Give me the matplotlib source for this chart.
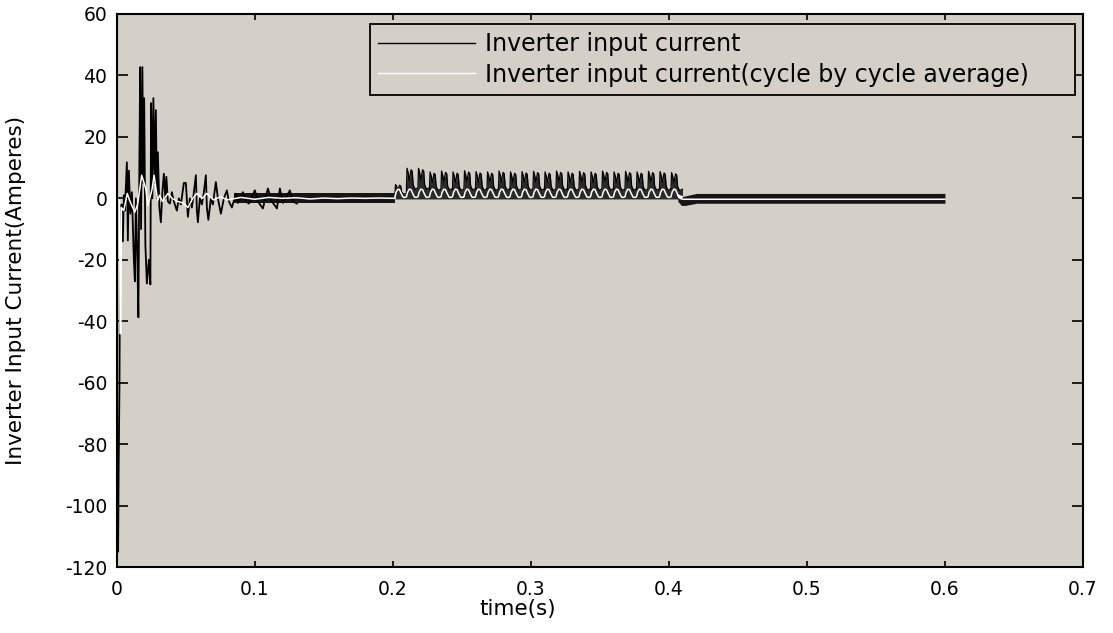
import numpy as np
import matplotlib
matplotlib.use("Agg")
import matplotlib.pyplot as plt

plt.rcParams["axes.unicode_minus"] = False

# ---------------- start-up transient (time in ms, current in A) ----------------
start_t_ms = [0.0, 0.3, 0.9, 1.3, 1.9, 2.4, 3.0, 3.6, 4.35, 5.07, 5.8, 7.25, 7.97,
              8.7, 9.78, 10.87, 12.32, 13.04, 13.77, 14.86, 15.58, 16.3, 16.88,
              17.54, 18.48, 19.2, 19.78, 20.65, 21.74, 23.19, 24.28, 24.78, 25.72,
              26.45, 27.54, 28.26, 28.99, 29.71, 30.8, 31.88, 32.97, 34.06, 35.14,
              35.87, 36.96, 38.41, 39.86, 41.3, 43.48, 44.93, 46.38, 48.55, 50.0,
              51.45, 52.9, 54.35, 55.8, 57.25, 57.97, 58.7, 60.14, 61.59, 63.04,
              64.49, 65.22, 66.3, 68.12, 69.57, 71.74, 73.19, 75.36, 77.54, 79.71,
              81.16, 83.33, 86.23, 87.68, 91.3, 93.48, 95.65, 100.0, 102.17, 105.8,
              109.42, 112.32, 115.94, 118.12, 120.29, 125.36, 127.54, 130.43]
start_i = [0.0, -115.0, -115.0, -88.0, -60.0, -2.0, -16.0, -2.0, -14.0, 1.0, -4.0,
           11.7, -13.7, 9.0, -5.0, 2.0, -20.0, -27.0, 0.0, -20.0, -38.7, 10.0, 42.7,
           -10.0, 42.7, 5.0, 32.6, -15.0, -27.7, -20.0, -28.0, 31.0, 0.0, 32.6, 5.0,
           28.7, 0.0, 15.0, -3.0, -7.8, 2.0, 8.0, 0.0, 7.0, -1.0, -1.7, 2.0, -1.0,
           -4.0, 0.0, -2.0, 5.0, 5.0, -6.0, 0.0, -3.0, 2.0, 7.5, -4.0, -7.8, 0.0,
           -2.0, 2.0, 7.5, -3.0, -7.0, 0.0, -2.0, 5.3, 0.0, -5.0, 0.0, 2.6, -1.0,
           -3.0, 1.5, -1.5, 2.0, -1.0, -1.7, 2.6, -1.0, -3.3, 3.2, -1.0, -3.3, 3.2,
           -1.5, 2.6, -1.0, -1.7]

start_avg_t_ms = [0.0, 2.0, 2.3, 2.9, 3.3, 5.0, 7.5, 9.5, 13.0, 15.0, 18.0, 21.0,
                  22.5, 25.5, 27.0, 29.5, 31.0, 33.0, 37.0, 40.0, 44.0, 48.0, 51.5,
                  55.0, 58.0, 62.0, 65.0, 70.0, 75.0, 80.0, 90.0, 100.0, 110.0,
                  120.0, 130.0, 140.0, 150.0, 160.0, 170.0, 180.0, 190.0, 201.5]
start_avg_i = [0.0, -1.0, -44.0, -44.0, -3.0, -4.0, 1.6, -1.0, -4.5, -2.0, 7.5, 3.0,
               -2.3, 3.0, 7.5, -0.7, 1.0, -1.0, 1.6, 0.0, -1.0, -1.5, -3.0, 0.0,
               1.6, 0.0, 1.6, -0.5, 0.5, -0.5, 0.3, -0.3, 0.3, 0.0, 0.2, -0.2, 0.1,
               -0.1, 0.1, 0.0, 0.1, 0.0]

# ---------------- switching band before the load step (ms, lower, upper) ----------------
light_band_t_ms = [85.0, 201.5]
light_band_lo = [-1.6, -1.6]
light_band_hi = [1.8, 1.8]

# ---------------- loaded interval: 120 Hz ripple cycles ----------------
ripple_period_ms = 1000.0 / 120.0
load_start_ms = 201.5
load_peaks = [4.5, 9.8, 9.8, 8.6, 8.9, 8.6, 9.0, 8.7, 8.6, 8.9, 8.6, 8.7, 8.8,
              8.6, 8.9, 8.6, 8.8, 8.6, 8.9, 8.6, 8.8, 8.6, 8.8, 8.7, 8.4]
# one ripple cycle of the switched current: phase and fraction of the cycle peak
cycle_phase = [0.00, 0.05, 0.15, 0.25, 0.40, 0.50, 0.58, 0.75, 1.00]
cycle_frac = [0.35, 1.00, 0.85, 0.60, 0.95, 0.90, 0.45, 0.30, 0.35]
load_floor = -0.2
# one ripple cycle of the cycle-by-cycle average
avg_phase = [0.00, 0.10, 0.25, 0.40, 0.55, 0.70, 0.85, 1.00]
avg_value = [0.5, 2.0, 3.0, 2.8, 1.5, 0.4, 0.3, 0.5]

# ---------------- after the load is removed ----------------
unload_t_ms = [406.5, 409.0, 412.0, 420.0, 600.0]
unload_lo = [-1.0, -2.3, -2.3, -1.6, -1.6]
unload_hi = [1.5, 0.5, 0.8, 1.6, 1.6]
unload_avg_t_ms = [406.5, 408.0, 410.0, 415.0, 600.0]
unload_avg_i = [1.0, 0.0, -0.3, -0.3, -0.3]

x_ticks = [0, 0.1, 0.2, 0.3, 0.4, 0.5, 0.6, 0.7]
x_tick_labels = ["0", "0.1", "0.2", "0.3", "0.4", "0.5", "0.6", "0.7"]
y_ticks = [-120, -100, -80, -60, -40, -20, 0, 20, 40, 60]

legend_labels = ["Inverter input current",
                 "Inverter input current(cycle by cycle average)"]

# ---------------- assemble ripple cycles ----------------
load_t, load_hi, load_avg_t, load_avg = [], [], [], []
for k, pk in enumerate(load_peaks):
    t0 = load_start_ms + k * ripple_period_ms
    load_t.extend(t0 + p * ripple_period_ms for p in cycle_phase)
    load_hi.extend(pk * f for f in cycle_frac)
    load_avg_t.extend(t0 + p * ripple_period_ms for p in avg_phase)
    load_avg.extend(avg_value)

ms = 1e-3
bg = "#d4d0c8"

fig = plt.figure(figsize=(11.13, 6.33), dpi=100, facecolor="white")
ax = fig.add_axes([0.105, 0.104, 0.868, 0.874])
ax.set_facecolor(bg)

# switched current (black)
ax.fill_between(np.array(light_band_t_ms) * ms, light_band_lo, light_band_hi,
                color="#151515", lw=0)
ax.fill_between(np.array(load_t) * ms, load_floor, load_hi, color="#2a2a2a", lw=0)
ax.plot(np.array(load_t) * ms, load_hi, color="black", lw=0.9)
ax.fill_between(np.array(unload_t_ms) * ms, unload_lo, unload_hi,
                color="#151515", lw=0)
ax.plot(np.array(start_t_ms) * ms, start_i, color="black", lw=1.3)

# cycle-by-cycle average (white)
avg_t = np.concatenate([start_avg_t_ms, load_avg_t, unload_avg_t_ms]) * ms
avg_i = np.concatenate([start_avg_i, load_avg, unload_avg_i])
ax.plot(avg_t, avg_i, color="white", lw=1.1)

ax.set_xlim(0, 0.7)
ax.set_ylim(-120, 60)
ax.set_xticks(x_ticks)
ax.set_xticklabels(x_tick_labels)
ax.set_yticks(y_ticks)

ax.tick_params(axis="both", direction="in", top=True, right=True,
               labelsize=13.5, colors="black", width=1.2)
ax.tick_params(axis="y", length=8, pad=7)
ax.tick_params(axis="x", length=4, pad=9)
for sp in ax.spines.values():
    sp.set_color("black")
    sp.set_linewidth(1.5)

ax.set_xlabel("time(s)", fontsize=15.5)
ax.xaxis.set_label_coords(0.415, -0.058)
ax.set_ylabel("Inverter Input Current(Amperes)", fontsize=15.5)
ax.yaxis.set_label_coords(-0.094, 0.5)

handles = [plt.Line2D([], [], color="black", lw=1.0),
           plt.Line2D([], [], color="white", lw=1.0)]
leg = ax.legend(handles, legend_labels, loc="upper left",
                bbox_to_anchor=(0.262, 0.857, 0.730, 0.125), mode="expand",
                borderaxespad=0, fontsize=17, handlelength=4.1,
                handletextpad=0.42, labelspacing=0.27, borderpad=0.36,
                fancybox=False, framealpha=1.0, facecolor=bg, edgecolor="black")
leg.get_frame().set_linewidth(1.3)

fig.savefig("out.png", dpi=100, facecolor="white")
